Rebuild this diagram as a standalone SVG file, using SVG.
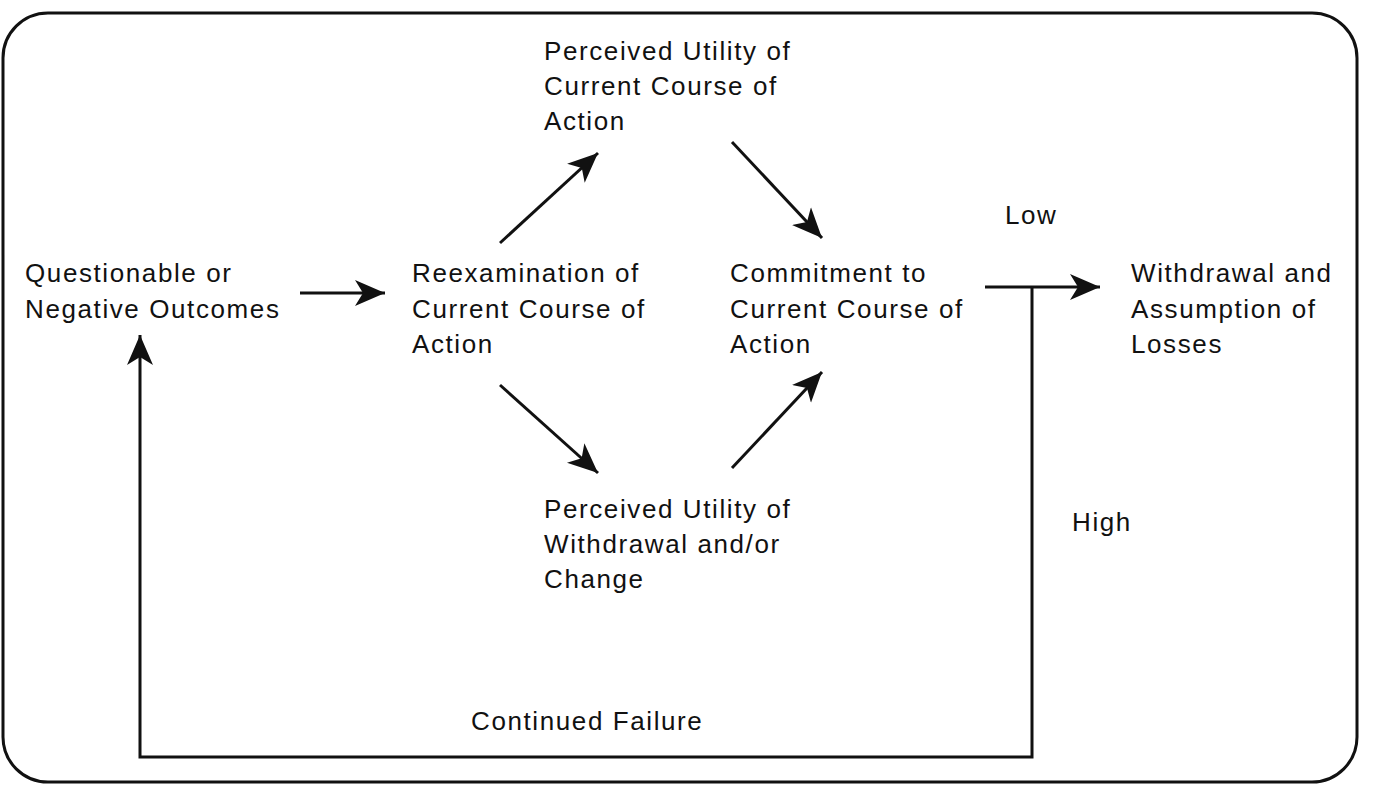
<svg xmlns="http://www.w3.org/2000/svg" width="1374" height="800" viewBox="0 0 1374 800">
<style>
text{font-family:"Liberation Sans",Arial,sans-serif;font-size:26px;letter-spacing:1.6px;fill:#111}
.c{stroke:#111;stroke-width:3;fill:none}
</style>
<defs>
<marker id="a" markerUnits="userSpaceOnUse" markerWidth="34" markerHeight="30" refX="30" refY="15" orient="auto">
<path d="M0,2 L30,15 L0,28 L8,15 Z" fill="#111"/>
</marker>
</defs>
<rect x="3" y="13" width="1354" height="769" rx="45" fill="#fff" stroke="#111" stroke-width="3"/>
<g id="n1"><text x="25" y="282">Questionable or</text><text x="25" y="318">Negative Outcomes</text></g>
<g id="n2"><text x="412" y="282">Reexamination of</text><text x="412" y="318">Current Course of</text><text x="412" y="353">Action</text></g>
<g id="n3"><text x="544" y="60">Perceived Utility of</text><text x="544" y="95">Current Course of</text><text x="544" y="130">Action</text></g>
<g id="n4"><text x="544" y="518">Perceived Utility of</text><text x="544" y="553">Withdrawal and/or</text><text x="544" y="588">Change</text></g>
<g id="n5"><text x="730" y="282">Commitment to</text><text x="730" y="318">Current Course of</text><text x="730" y="353">Action</text></g>
<g id="n6"><text x="1131" y="282">Withdrawal and</text><text x="1131" y="318">Assumption of</text><text x="1131" y="353">Losses</text></g>
<g id="connectors">
<line class="c" x1="300" y1="293" x2="385" y2="293" marker-end="url(#a)"/>
<line class="c" x1="500" y1="243" x2="598" y2="153" marker-end="url(#a)"/>
<line class="c" x1="732" y1="142" x2="822" y2="238" marker-end="url(#a)"/>
<line class="c" x1="500" y1="385" x2="598" y2="473" marker-end="url(#a)"/>
<line class="c" x1="732" y1="468" x2="822" y2="372" marker-end="url(#a)"/>
<line class="c" x1="985" y1="287" x2="1100" y2="287" marker-end="url(#a)"/>
<polyline class="c" points="1032,287 1032,757 140,757 140,335" marker-end="url(#a)"/>
<text x="1005" y="224">Low</text>
<text x="1072" y="531">High</text>
<text x="471" y="730">Continued Failure</text>
</g>
</svg>
